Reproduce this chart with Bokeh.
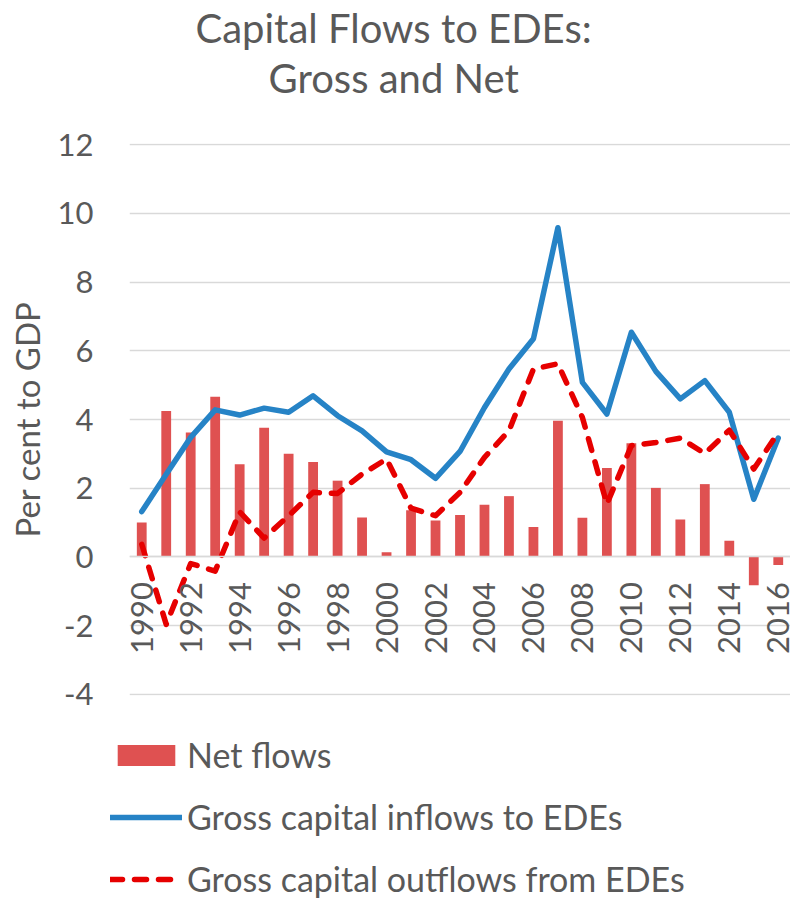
from math import pi
from bokeh.plotting import figure
from bokeh.layouts import column
from bokeh.models import Range1d, FixedTicker, Legend, LegendItem, Title, ColumnDataSource
from bokeh.embed import file_html
from bokeh.resources import INLINE

# ---- data ----
years = list(range(1990, 2017))
net_flows = [1.00, 4.25, 3.62, 4.66, 2.70, 3.76, 3.00, 2.76, 2.22, 1.15, 0.14, 1.36, 1.06, 1.22,
             1.52, 1.77, 0.87, 3.96, 1.14, 2.59, 3.31, 2.01, 1.09, 2.12, 0.47, -0.82, -0.23]
gross_inflows = [1.32, 2.41, 3.48, 4.28, 4.13, 4.33, 4.21, 4.69, 4.11, 3.67, 3.06, 2.83, 2.29, 3.07,
                 4.35, 5.47, 6.35, 9.58, 5.08, 4.16, 6.54, 5.40, 4.60, 5.13, 4.21, 1.68, 3.46]
gross_outflows = [0.37, -1.96, -0.19, -0.41, 1.31, 0.55, 1.20, 1.88, 1.85, 2.41, 2.85, 1.42, 1.20, 1.88,
                  2.90, 3.67, 5.47, 5.62, 4.06, 1.54, 3.24, 3.33, 3.46, 3.01, 3.69, 2.56, 3.62]
y_ticks = [-4, -2, 0, 2, 4, 6, 8, 10, 12]
y_tick_labels = {t: str(t) for t in y_ticks}   # plain hyphen minus, as in the reference
x_ticks = years[::2]
title_lines = ["Capital Flows to EDEs:", "Gross and Net"]
series_names = ["Net flows", "Gross capital inflows to EDEs", "Gross capital outflows from EDEs"]

TEXT = "#595959"
FONT = "Lato"
BAR_COLOR = "#DF5151"
IN_COLOR = "#2683C6"
OUT_COLOR = "#E60000"

src = ColumnDataSource(dict(year=years, net=net_flows, inflow=gross_inflows, outflow=gross_outflows))

p = figure(width=790, height=712, output_backend="svg", toolbar_location=None,
           x_range=Range1d(1989.5, 2016.5), y_range=Range1d(-4.03, 12.03),
           min_border_left=129, min_border_right=0, min_border_top=143, min_border_bottom=17)
p.outline_line_color = None
p.xgrid.visible = False
p.ygrid.grid_line_color = "#D9D9D9"
p.ygrid.grid_line_width = 1.5
p.ygrid.ticker = FixedTicker(ticks=y_ticks)

yax = p.yaxis[0]
yax.ticker = FixedTicker(ticks=y_ticks)
yax.major_label_overrides = y_tick_labels
yax.axis_line_color = None
yax.major_tick_line_color = None
yax.minor_tick_line_color = None
yax.major_tick_out = 0
yax.major_label_standoff = 36
yax.major_label_text_font = FONT
yax.major_label_text_font_size = "31px"
yax.major_label_text_color = TEXT
yax.axis_label = "Per cent to GDP"
yax.axis_label_standoff = 8
yax.axis_label_text_font = FONT
yax.axis_label_text_font_size = "33px"
yax.axis_label_text_font_style = "normal"
yax.axis_label_text_color = TEXT

xax = p.xaxis[0]
xax.fixed_location = 0
xax.ticker = FixedTicker(ticks=x_ticks)
xax.axis_line_color = "#D9D9D9"
xax.axis_line_width = 1.5
xax.major_tick_line_color = None
xax.minor_tick_line_color = None
xax.major_tick_out = 0
xax.major_label_orientation = pi / 2
xax.major_label_standoff = 25
xax.major_label_text_font = FONT
xax.major_label_text_font_size = "31px"
xax.major_label_text_color = TEXT

p.vbar(x="year", top="net", bottom=0, width=0.4, source=src,
       fill_color=BAR_COLOR, line_color=None)
p.line(x="year", y="inflow", source=src, line_color=IN_COLOR, line_width=5.5,
       line_join="round", line_cap="round")
p.line(x="year", y="outflow", source=src, line_color=OUT_COLOR, line_width=5.5,
       line_dash="12 12", line_join="round", line_cap="round")

# titles: spacer closest to the plot, then line 2, then line 1 on top
p.add_layout(Title(text=" ", text_font_size="1px", standoff=39), "above")
p.add_layout(Title(text=title_lines[1], align="left", offset=139, vertical_align="bottom",
                   text_font=FONT, text_font_size="40px", text_font_style="normal",
                   text_color=TEXT, standoff=0), "above")
p.add_layout(Title(text=title_lines[0], align="left", offset=66, vertical_align="bottom",
                   text_font=FONT, text_font_size="40px", text_font_style="normal",
                   text_color=TEXT, standoff=0), "above")

# legend panel below the chart (its key glyphs use off-range samples, clipped away)
lg = figure(width=790, height=188, output_backend="svg", toolbar_location=None,
            x_range=Range1d(0, 1), y_range=Range1d(0, 1),
            min_border_left=0, min_border_right=0, min_border_top=0, min_border_bottom=0)
lg.outline_line_color = None
lg.axis.visible = False
lg.grid.visible = False
for fig in (p, lg):
    if "frame_align" in fig.properties():
        fig.frame_align = False
k_bar = lg.vbar(x=[5], top=[5], bottom=[4], width=0.4, fill_color=BAR_COLOR, line_color=None)
k_in = lg.line(x=[5, 6], y=[5, 6], line_color=IN_COLOR, line_width=5.5, line_cap="round")
k_out = lg.line(x=[5, 6], y=[5, 6], line_color=OUT_COLOR, line_width=5.5, line_dash="12 12",
                line_cap="round")
legend = Legend(items=[LegendItem(label=series_names[0], renderers=[k_bar]),
                       LegendItem(label=series_names[1], renderers=[k_in]),
                       LegendItem(label=series_names[2], renderers=[k_out])],
                location=(110, 1), orientation="vertical", padding=0, margin=0,
                border_line_color=None, background_fill_alpha=0,
                glyph_width=72, glyph_height=26, label_height=40, spacing=21,
                label_standoff=5, label_text_font=FONT, label_text_font_size="34px",
                label_text_color=TEXT)
lg.add_layout(legend)

open("out.html", "w").write(file_html(column(p, lg, spacing=0), INLINE))
